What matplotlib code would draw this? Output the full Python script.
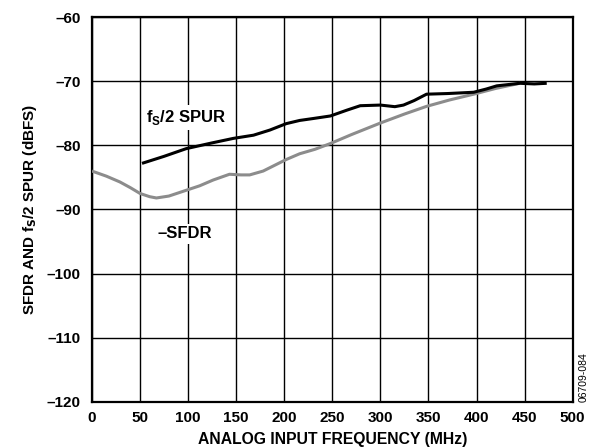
import matplotlib
matplotlib.use("Agg")
import matplotlib.pyplot as plt

# fS/2 spur (black)
spur_f = [52, 75, 98, 125, 147, 168, 185, 202, 216, 230, 248, 265, 279, 300, 315, 324, 335, 348, 370, 397, 410, 421, 445, 460, 473]
spur_db = [-82.8, -81.7, -80.5, -79.6, -78.9, -78.4, -77.6, -76.6, -76.1, -75.8, -75.4, -74.5, -73.8, -73.7, -73.95, -73.7, -73.0, -72.0, -71.9, -71.7, -71.2, -70.7, -70.3, -70.4, -70.3]

# -SFDR (gray)
sfdr_f = [0, 15, 29, 40, 50, 60, 67, 80, 98, 112, 126, 143, 155, 164, 178, 190, 202, 216, 232, 248, 270, 300, 325, 348, 372, 397, 420, 445]
sfdr_db = [-84.0, -84.8, -85.7, -86.6, -87.5, -88.0, -88.2, -87.9, -87.0, -86.3, -85.4, -84.5, -84.6, -84.6, -84.0, -83.1, -82.2, -81.3, -80.6, -79.7, -78.3, -76.5, -75.1, -73.9, -72.9, -72.0, -71.1, -70.3]

xticks = [0, 50, 100, 150, 200, 250, 300, 350, 400, 450, 500]
yticks = [-120, -110, -100, -90, -80, -70, -60]

plt.rcParams['font.family'] = ['Liberation Sans', 'DejaVu Sans']

fig = plt.figure(figsize=(5.98, 4.47), dpi=100)
ax = fig.add_axes([92/598, 1-401.7/447, (572.7-92)/598, (401.7-17.3)/447])

ax.plot(sfdr_f, sfdr_db, color='#8c8c8c', lw=2.2, solid_capstyle='butt', zorder=3)
ax.plot(spur_f, spur_db, color='black', lw=2.2, solid_capstyle='butt', zorder=4)

ax.set_xlim(0, 500)
ax.set_ylim(-120, -60)
ax.set_xticks(xticks)
ax.set_yticks(yticks)
ax.set_xticklabels([str(v) for v in xticks], fontsize=11, fontweight='bold')
ax.set_yticklabels([str(v).replace('-', '\u2013') for v in yticks], fontsize=11, fontweight='bold')
ax.tick_params(axis='x', length=0, pad=7)
ax.tick_params(axis='y', length=0, pad=8)
ax.grid(True, color='black', lw=1.0)
ax.set_axisbelow(True)
for s in ax.spines.values():
    s.set_linewidth(1.6)

ax.set_xlabel('ANALOG INPUT FREQUENCY (MHz)', fontsize=11.3, fontweight='bold', labelpad=4.5)
ax.set_ylabel('SFDR AND f$_\\mathbf{S}$/2 SPUR (dBFS)', fontsize=11, fontweight='bold', labelpad=6)

bbox = dict(facecolor='white', edgecolor='none', pad=2)
ax.text(98, -75.6, 'f$_\\mathregular{S}$/2 SPUR', fontsize=12, fontweight='bold', ha='center', va='center', bbox=bbox, zorder=5)
ax.text(96, -93.8, '\u2013SFDR', fontsize=12, fontweight='bold', ha='center', va='center', bbox=bbox, zorder=5)

fig.text(584/598, 1-377/447, '06709-084', rotation=90, fontsize=7.5, ha='center', va='center')

fig.savefig('out.png', dpi=100)
